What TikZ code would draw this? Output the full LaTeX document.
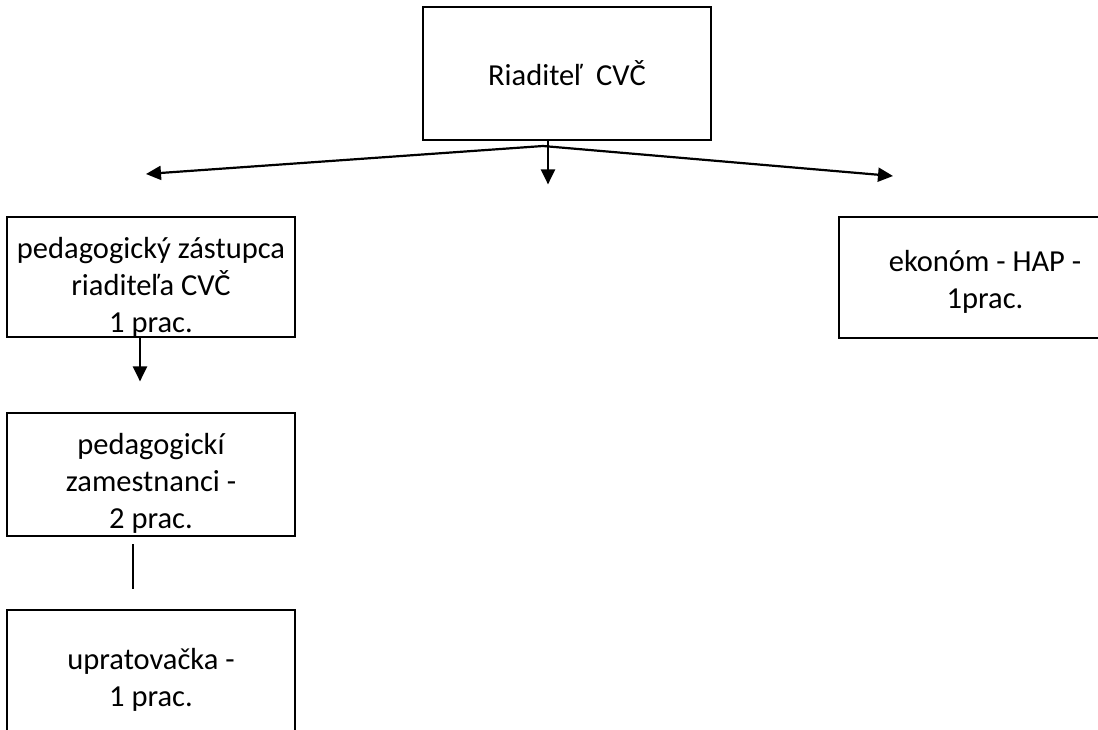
\documentclass[tikz,border=0pt]{standalone}
\usepackage{fontspec}
\setmainfont{Carlito}
\usetikzlibrary{arrows.meta}

\tikzset{
    orgbox/.style={draw, line width=2.8pt, rectangle, align=center, inner sep=0pt,
        font=\fontsize{30.5}{37}\selectfont},
    link/.style={line width=2.2pt},
    linkarrow/.style={link, -{Triangle[length=15pt,width=14pt]}}
}

\begin{document}
\begin{tikzpicture}[x=1pt, y=-1pt]
                % Page
                \useasboundingbox (0,0) rectangle (1098,729);
                \clip (0,0) rectangle (1098,729);

                % Director
                \node[orgbox, minimum width=288pt, minimum height=133pt] (chief) at (567,73.5) {Riaditeľ\ \ CVČ};

                % First level
                \node[orgbox, minimum width=288pt, minimum height=120pt, text height=115pt] (deputy) at (151,277) {pedagogický zástupca\\riaditeľa CVČ\\1 prac.};
                \node[orgbox, minimum width=292pt, minimum height=121pt, text height=67pt] (econ) at (985,277.5) {ekonóm - HAP -\\1prac.};

                % Staff under the deputy
                \node[orgbox, minimum width=288pt, minimum height=123pt, text height=112pt] (teachers) at (151,474.5) {pedagogickí\\zamestnanci -\\2 prac.};
                \node[orgbox, minimum width=288pt, minimum height=140pt] (cleaner) at (151,680) {upratovačka -\\1 prac.};

                % Split under the director
                \coordinate (split) at (543,146);
                \coordinate (tipL) at (146,174);
                \coordinate (tipR) at (893,176);
                \draw[linkarrow] (split) -- (tipL);
                \draw[linkarrow] (split) -- (tipR);
                \draw[linkarrow] ([xshift=-19pt]chief.south) -- ++(0,43);

                % Left column
                \draw[linkarrow] ([xshift=-11pt]deputy.south) -- ++(0,43);
                \draw[link] ([xshift=-18pt,yshift=-7pt]teachers.south) -- ++(0,45);
\end{tikzpicture}
\end{document}
